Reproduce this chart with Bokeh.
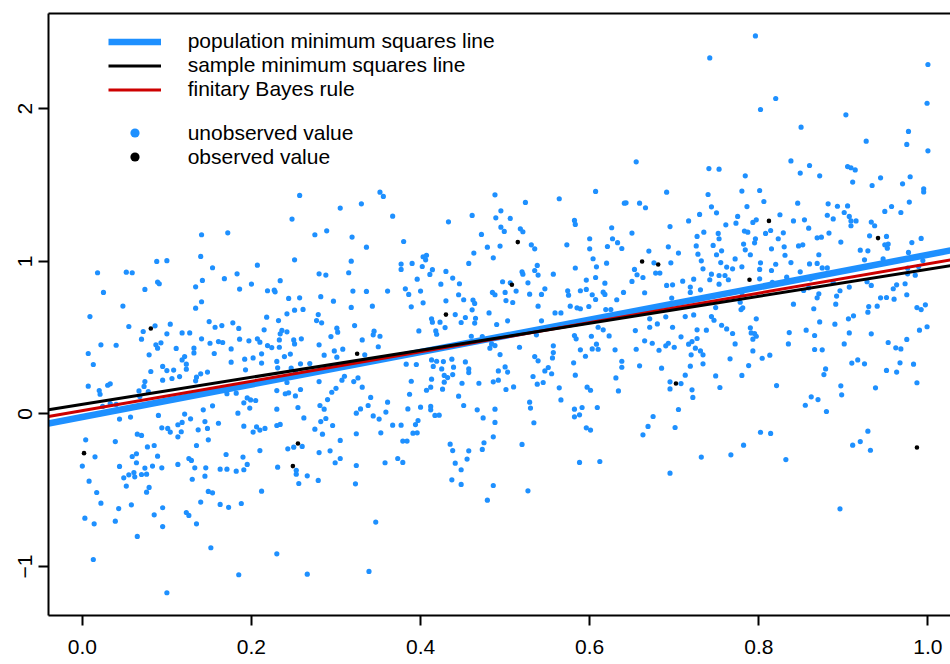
from bokeh.plotting import figure
from bokeh.models import Range1d, FixedTicker, LinearAxis, Legend, LegendItem, NumeralTickFormatter
from bokeh.embed import file_html
from bokeh.resources import INLINE

# ---------------- data ----------------
x_ticks = [0.0, 0.2, 0.4, 0.6, 0.8, 1.0]
y_ticks = [-1, 0, 1, 2]

line_labels = ["population minimum squares line", "sample minimum squares line", "finitary Bayes rule"]
line_intercepts = [-0.020, 0.063, 0.022]
line_slopes = [1.063, 0.885, 0.962]
line_colors = ["#1E90FF", "#000000", "#CD0000"]

x_unobserved = [
    # upper left
    0.257, 0.305, 0.248, 0.141, 0.172, 0.275, 0.289, 0.319, 0.140, 0.251, 0.318, 0.088, 0.100, 0.018, 0.052, 0.059,
    0.154, 0.207, 0.183, 0.280, 0.288, 0.315, 0.089, 0.091, 0.142, 0.168, 0.234, 0.025, 0.074, 0.134, 0.186, 0.200,
    0.219, 0.227, 0.228, 0.320, 0.244, 0.257, 0.282, 0.297, 0.141, 0.048, 0.134, 0.318, 0.251, 0.261,
    # upper middle
    0.655, 0.607, 0.564, 0.352, 0.356, 0.330, 0.488, 0.524, 0.641, 0.643, 0.659, 0.666, 0.367, 0.461, 0.489, 0.506,
    0.495, 0.433, 0.582, 0.583, 0.495, 0.499, 0.518, 0.521, 0.472, 0.336, 0.380, 0.463, 0.479, 0.494, 0.486, 0.531,
    0.535, 0.573, 0.600, 0.600, 0.626, 0.627, 0.633, 0.621, 0.638, 0.650, 0.670, 0.604, 0.608, 0.620, 0.377, 0.377,
    0.390, 0.403, 0.407, 0.406, 0.402, 0.414, 0.411, 0.396, 0.430, 0.438, 0.457, 0.538, 0.535, 0.539, 0.520, 0.521,
    0.557, 0.583, 0.653, 0.656, 0.663, 0.596, 0.607, 0.618, 0.650, 0.497, 0.506, 0.527, 0.336, 0.361, 0.382, 0.386,
    0.400, 0.424, 0.446, 0.445, 0.451, 0.462, 0.464, 0.430, 0.403, 0.389, 0.343, 0.485, 0.488, 0.500, 0.513, 0.529,
    0.543, 0.547, 0.574, 0.575, 0.589, 0.596, 0.603, 0.616, 0.618, 0.607, 0.632, 0.640, 0.665, 0.501, 0.509, 0.539,
    0.577, 0.585, 0.589, 0.599, 0.461, 0.619, 0.625,
    # upper right
    0.796, 0.742, 1.000, 0.820, 0.802, 0.999, 0.903, 0.850, 0.977, 0.975, 0.927, 1.000, 0.838, 0.860, 0.849, 0.741,
    0.753, 0.784, 0.872, 0.905, 0.909, 0.914, 0.911, 0.944, 0.934, 0.979, 0.970, 0.995, 0.995, 0.691, 0.740, 0.780,
    0.801, 0.806, 0.744, 0.786, 0.846, 0.882, 0.893, 0.905, 0.901, 0.907, 0.909, 0.909, 0.915, 0.881, 0.888, 0.859,
    0.854, 0.841, 0.825, 0.949, 0.957, 0.968, 0.978, 0.730, 0.750, 0.775, 0.717, 0.695, 0.761, 0.773, 0.793, 0.797,
    0.783, 0.787, 0.814, 0.808, 0.829, 0.796, 0.795, 0.823, 0.830, 0.815, 0.831, 0.847, 0.852, 0.869, 0.874, 0.883,
    0.897, 0.933, 0.937, 0.931, 0.951, 0.949, 0.953, 0.952, 0.981, 0.992, 0.735, 0.727, 0.752, 0.753, 0.726, 0.746,
    0.756, 0.750, 0.728, 0.732, 0.734, 0.693, 0.705, 0.696, 0.676, 0.678, 0.683, 0.744, 0.753, 0.753, 0.755, 0.762,
    0.769, 0.760, 0.764, 0.772, 0.782, 0.784, 0.790, 0.780, 0.802, 0.801, 0.801, 0.815, 0.820, 0.816, 0.838, 0.860,
    0.869, 0.871, 0.875, 0.881, 0.868, 0.849, 0.833, 0.844, 0.861, 0.920, 0.929, 0.925, 0.947, 0.977, 0.976, 0.989,
    0.994, 0.976, 0.985, 0.710, 0.723, 0.691, 0.698, 0.719, 0.719, 0.731, 0.742, 0.697, 0.888, 0.896, 0.907, 0.892,
    0.928, 0.933, 0.959, 0.963, 0.973, 0.975, 0.944, 0.951, 0.960, 0.871, 0.869, 0.859, 0.853, 0.780, 0.778, 0.781,
    0.749, 0.841, 0.865, 0.891, 0.930, 0.940, 0.987, 0.997, 0.779, 0.992,
    # lower left
    0.009, 0.055, 0.072, 0.070, 0.086, 0.104, 0.100, 0.118, 0.127, 0.150, 0.157, 0.165, 0.178, 0.185, 0.218, 0.232,
    0.242, 0.277, 0.279, 0.283, 0.301, 0.302, 0.294, 0.322, 0.215, 0.236, 0.234, 0.242, 0.233, 0.250, 0.251, 0.207,
    0.210, 0.219, 0.224, 0.233, 0.259, 0.186, 0.197, 0.161, 0.166, 0.151, 0.141, 0.111, 0.132, 0.132, 0.156, 0.176,
    0.192, 0.176, 0.202, 0.212, 0.212, 0.193, 0.230, 0.239, 0.246, 0.231, 0.247, 0.252, 0.258, 0.269, 0.280, 0.286,
    0.298, 0.301, 0.308, 0.087, 0.089, 0.093, 0.079, 0.121, 0.118, 0.123, 0.123, 0.081, 0.095, 0.100, 0.108, 0.115,
    0.095, 0.106, 0.135, 0.134, 0.140, 0.148, 0.074, 0.073, 0.067, 0.068, 0.078, 0.030, 0.033, 0.020, 0.021, 0.007,
    0.013, 0.022, 0.040, 0.007, 0.024, 0.033, 0.040, 0.044, 0.057, 0.090, 0.094, 0.101, 0.104, 0.113, 0.118, 0.121,
    0.128, 0.143, 0.145, 0.154, 0.161, 0.171, 0.182, 0.191, 0.195, 0.199, 0.205, 0.184, 0.191, 0.198, 0.206, 0.210,
    0.202, 0.216, 0.230, 0.230, 0.234, 0.244, 0.240, 0.230, 0.242, 0.258, 0.252, 0.255, 0.262, 0.275, 0.282, 0.281,
    0.286, 0.290, 0.295, 0.300, 0.288, 0.296, 0.284, 0.305, 0.321, 0.307, 0.310, 0.280, 0.004, 0.039, 0.015, 0.000,
    0.008, 0.017, 0.022, 0.003, 0.014, 0.039, 0.043, 0.058, 0.065, 0.013, 0.085, 0.095, 0.095, 0.100, 0.085, 0.077,
    0.065, 0.070, 0.064, 0.064, 0.059, 0.044, 0.049, 0.055, 0.061, 0.062, 0.070, 0.076, 0.074, 0.083, 0.094, 0.089,
    0.052, 0.076, 0.079, 0.113, 0.117, 0.113, 0.126, 0.129, 0.133, 0.135, 0.137, 0.149, 0.148, 0.146, 0.145, 0.130,
    0.149, 0.154, 0.140, 0.123, 0.126, 0.135, 0.152, 0.163, 0.173, 0.188, 0.170, 0.163, 0.171, 0.182, 0.191, 0.190,
    0.195, 0.210, 0.231, 0.212, 0.230, 0.185, 0.266, 0.243, 0.250, 0.260, 0.280, 0.293, 0.253, 0.253, 0.256, 0.266,
    0.279, 0.305, 0.299,
    # lower middle
    0.481, 0.559, 0.566, 0.331, 0.345, 0.344, 0.352, 0.350, 0.334, 0.398, 0.413, 0.414, 0.423, 0.429, 0.418, 0.419,
    0.441, 0.448, 0.453, 0.464, 0.465, 0.490, 0.503, 0.543, 0.460, 0.473, 0.484, 0.488, 0.482, 0.494, 0.517, 0.537,
    0.535, 0.539, 0.557, 0.557, 0.556, 0.555, 0.547, 0.551, 0.545, 0.533, 0.538, 0.564, 0.566, 0.582, 0.584, 0.581,
    0.583, 0.589, 0.595, 0.602, 0.610, 0.603, 0.608, 0.610, 0.616, 0.623, 0.630, 0.638, 0.638, 0.631, 0.634, 0.654,
    0.655, 0.659, 0.665, 0.671, 0.671, 0.597, 0.601, 0.609, 0.582, 0.582, 0.588, 0.591, 0.596, 0.601, 0.612, 0.588,
    0.663, 0.669, 0.383, 0.395, 0.413, 0.419, 0.427, 0.437, 0.439, 0.415, 0.425, 0.428, 0.438, 0.432, 0.413, 0.412,
    0.407, 0.426, 0.428, 0.453, 0.457, 0.457, 0.449, 0.469, 0.486, 0.492, 0.500, 0.503, 0.510, 0.501, 0.492, 0.445,
    0.451, 0.467, 0.474, 0.488, 0.488, 0.486, 0.326, 0.331, 0.341, 0.338, 0.329, 0.324, 0.344, 0.351, 0.359, 0.361,
    0.353, 0.367, 0.377, 0.387, 0.389, 0.385, 0.400, 0.412, 0.412, 0.417, 0.422, 0.397, 0.394, 0.396, 0.391, 0.379,
    0.384, 0.373, 0.379, 0.358, 0.324, 0.324, 0.323, 0.347, 0.339, 0.435, 0.438, 0.441, 0.455, 0.457, 0.448, 0.437,
    0.448, 0.473, 0.475, 0.486, 0.479, 0.520, 0.527, 0.529, 0.530, 0.534,
    # lower right
    0.680, 0.690, 0.698, 0.713, 0.723, 0.744, 0.747, 0.756, 0.762, 0.769, 0.772, 0.790, 0.791, 0.795, 0.797, 0.793,
    0.797, 0.727, 0.738, 0.708, 0.727, 0.721, 0.717, 0.725, 0.731, 0.734, 0.720, 0.690, 0.693, 0.700, 0.682, 0.674,
    0.766, 0.734, 0.719, 0.713, 0.749, 0.754, 0.780, 0.788, 0.793, 0.804, 0.813, 0.821, 0.695, 0.708, 0.695, 0.721,
    0.722, 0.705, 0.675, 0.701, 0.685, 0.802, 0.814, 0.782, 0.767, 0.732, 0.695, 0.832, 0.856, 0.866, 0.872, 0.890,
    0.906, 0.912, 0.929, 0.901, 0.907, 0.933, 0.910, 0.917, 0.925, 0.879, 0.877, 0.866, 0.875, 0.836, 0.835, 0.953,
    0.962, 0.968, 0.975, 0.990, 0.999, 0.967, 0.963, 0.983, 0.987, 0.951, 0.938, 0.897, 0.898, 0.855, 0.862, 0.870,
    0.880, 0.929, 0.920, 0.911, 0.932, 0.896,
]

y_unobserved = [
    # upper left
    1.432, 1.349, 1.277, 1.174, 1.187, 1.174, 1.200, 1.159, 1.032, 1.010, 1.001, 0.999, 1.004, 0.925, 0.929, 0.925,
    0.958, 0.975, 0.918, 0.918, 0.910, 0.925, 0.864, 0.853, 0.875, 0.886, 0.873, 0.796, 0.816, 0.833, 0.818, 0.851,
    0.807, 0.811, 0.800, 0.805, 0.757, 0.761, 0.768, 0.739, 0.735, 0.707, 0.693, 0.698, 0.680, 0.685,
    # upper middle
    1.652, 1.458, 1.410, 1.453, 1.425, 1.377, 1.436, 1.386, 1.381, 1.383, 1.381, 1.351, 1.296, 1.301, 1.285, 1.281,
    1.331, 1.259, 1.268, 1.242, 1.224, 1.196, 1.213, 1.194, 1.176, 1.093, 1.130, 1.054, 1.093, 1.100, 1.023, 1.108,
    1.082, 1.108, 1.148, 1.082, 1.220, 1.148, 1.122, 1.097, 1.084, 1.185, 1.067, 1.017, 0.964, 0.988, 0.982, 0.947,
    0.986, 1.030, 1.039, 1.010, 0.966, 0.945, 0.914, 0.883, 0.934, 0.890, 0.986, 0.973, 0.940, 0.910, 0.931, 0.916,
    0.916, 0.956, 0.947, 0.912, 0.894, 0.877, 0.894, 0.857, 0.868, 0.866, 0.859, 0.859, 0.803, 0.805, 0.820, 0.783,
    0.805, 0.850, 0.853, 0.781, 0.748, 0.746, 0.724, 0.741, 0.728, 0.702, 0.706, 0.796, 0.781, 0.796, 0.805, 0.785,
    0.783, 0.820, 0.807, 0.778, 0.807, 0.816, 0.781, 0.798, 0.783, 0.750, 0.748, 0.796, 0.794, 0.743, 0.730, 0.706,
    0.706, 0.695, 0.689, 0.704, 0.682, 0.684, 0.684,
    # upper right
    2.477, 2.333, 2.290, 2.067, 1.995, 2.036, 1.960, 1.879, 1.851, 1.766, 1.787, 1.724, 1.658, 1.628, 1.578, 1.608,
    1.604, 1.560, 1.560, 1.621, 1.613, 1.599, 1.519, 1.547, 1.497, 1.554, 1.508, 1.475, 1.455, 1.453, 1.438, 1.460,
    1.464, 1.392, 1.357, 1.359, 1.381, 1.377, 1.361, 1.363, 1.320, 1.294, 1.265, 1.233, 1.265, 1.302, 1.278, 1.217,
    1.272, 1.265, 1.305, 1.327, 1.359, 1.320, 1.388, 1.307, 1.318, 1.294, 1.265, 1.228, 1.239, 1.250, 1.255, 1.272,
    1.198, 1.191, 1.202, 1.183, 1.187, 1.148, 1.121, 1.148, 1.095, 1.082, 1.040, 1.101, 1.108, 1.154, 1.158, 1.185,
    1.126, 1.257, 1.233, 1.167, 1.163, 1.108, 1.113, 1.086, 1.123, 1.150, 1.191, 1.163, 1.183, 1.148, 1.101, 1.104,
    1.069, 1.043, 1.047, 1.003, 0.951, 1.095, 1.054, 0.990, 0.990, 0.923, 0.923, 0.916, 0.907, 0.850, 0.992, 0.962,
    0.951, 0.907, 0.879, 1.016, 1.113, 1.075, 1.043, 0.964, 0.990, 0.947, 0.885, 0.940, 0.981, 0.863, 0.992, 0.983,
    0.986, 1.043, 0.957, 0.957, 0.900, 0.931, 0.896, 0.881, 0.885, 1.073, 1.069, 1.010, 1.016, 1.058, 0.955, 0.966,
    1.005, 0.918, 0.909, 0.870, 0.883, 0.842, 0.846, 0.831, 0.796, 0.813, 0.879, 0.759, 0.861, 0.807, 0.831, 0.772,
    0.866, 0.842, 0.820, 0.846, 0.853, 0.781, 0.761, 0.763, 0.752, 0.787, 0.761, 0.826, 0.809, 0.794, 0.732, 0.695,
    0.697, 0.719, 0.689, 0.719, 0.704, 0.706, 0.697, 0.715, 0.684, 0.684,
    # lower left
    0.638, 0.573, 0.540, 0.490, 0.577, 0.588, 0.525, 0.531, 0.531, 0.605, 0.568, 0.579, 0.597, 0.560, 0.634, 0.612,
    0.656, 0.612, 0.651, 0.597, 0.562, 0.536, 0.507, 0.579, 0.551, 0.547, 0.525, 0.538, 0.485, 0.485, 0.459, 0.492,
    0.470, 0.448, 0.435, 0.437, 0.492, 0.490, 0.479, 0.474, 0.468, 0.463, 0.492, 0.429, 0.431, 0.400, 0.396, 0.426,
    0.359, 0.339, 0.367, 0.394, 0.333, 0.289, 0.344, 0.376, 0.392, 0.302, 0.300, 0.278, 0.328, 0.330, 0.453, 0.385,
    0.413, 0.372, 0.424, 0.453, 0.431, 0.466, 0.387, 0.376, 0.354, 0.326, 0.293, 0.278, 0.311, 0.284, 0.287, 0.245,
    0.221, 0.232, 0.241, 0.217, 0.263, 0.274, 0.212, 0.180, 0.151, 0.114, 0.147, 0.188, 0.197, 0.153, 0.129, 0.396,
    0.324, 0.453, 0.450, 0.182, 0.049, 0.068, 0.062, -0.034, -0.021, -0.010, -0.091, -0.095, -0.119, -0.071, -0.056, -0.001,
    -0.032, 0.027, -0.050, 0.053, -0.061, 0.132, 0.136, 0.073, 0.105, 0.092, 0.088, 0.005, -0.080, 0.038, -0.085, -0.106,
    -0.119, -0.095, 0.031, -0.076, -0.069, 0.138, 0.132, 0.153, 0.206, 0.160, 0.118, 0.042, -0.026, -0.100, -0.050, 0.055,
    0.031, 0.094, 0.142, 0.168, -0.030, -0.076, -0.133, -0.174, 0.212, 0.221, 0.247, 0.212, -0.170, -0.181, -0.281, -0.342,
    -0.441, -0.515, -0.585, -0.683, -0.720, -0.703, -0.620, -0.596, -0.803, -0.954, -0.661, -0.615, -0.738, -1.172, -0.207, -0.216,
    -0.133, -0.141, -0.261, -0.320, -0.279, -0.344, -0.419, -0.399, -0.384, -0.412, -0.397, -0.395, -0.355, -0.342, -0.353, -0.277,
    -0.473, -0.513, -0.482, -0.150, -0.117, -0.331, -0.292, -0.305, -0.353, -0.207, -0.104, -0.170, -0.095, -0.353, -0.408, -0.428,
    -0.508, -0.517, -0.578, -0.646, -0.665, -0.720, -0.877, -0.593, -0.613, -0.587, -0.266, -0.362, -0.362, -0.375, -0.366, -0.283,
    -0.331, -0.240, -0.349, -0.506, -0.917, -1.054, -1.050, -0.229, -0.218, -0.213, -0.253, -0.242, -0.369, -0.395, -0.456, -0.406,
    -0.436, -0.292, -0.320,
    # lower middle
    0.662, 0.662, 0.662, 0.485, 0.542, 0.518, 0.509, 0.440, 0.387, 0.544, 0.623, 0.601, 0.601, 0.566, 0.544, 0.522,
    0.651, 0.599, 0.632, 0.595, 0.627, 0.586, 0.610, 0.610, 0.509, 0.507, 0.459, 0.448, 0.431, 0.389, 0.437, 0.518,
    0.376, 0.348, 0.446, 0.402, 0.367, 0.263, 0.282, 0.304, 0.206, 0.245, 0.195, 0.171, 0.092, 0.514, 0.492, 0.335,
    0.254, 0.420, 0.378, 0.509, 0.568, 0.426, 0.457, 0.424, 0.551, 0.511, 0.420, 0.345, 0.306, 0.236, 0.151, 0.546,
    0.424, 0.315, 0.479, 0.623, 0.568, 0.175, 0.155, 0.042, 0.031, -0.019, -0.006, 0.042, -0.091, -0.106, -0.312, -0.318,
    -0.137, -0.082, 0.326, 0.324, 0.354, 0.345, 0.343, 0.359, 0.306, 0.311, 0.295, 0.252, 0.258, 0.238, 0.228, 0.175,
    0.155, 0.162, 0.208, 0.341, 0.295, 0.271, 0.201, 0.201, 0.210, 0.221, 0.308, 0.274, 0.177, 0.160, 0.282, 0.116,
    0.055, 0.027, -0.026, 0.031, -0.056, -0.150, 0.236, 0.175, 0.108, 0.055, 0.033, 0.005, -0.013, -0.034, 0.012, 0.077,
    -0.124, -0.074, -0.074, 0.129, 0.214, 0.033, 0.044, 0.049, 0.027, -0.010, -0.008, -0.043, -0.070, -0.124, -0.126, -0.178,
    -0.178, -0.292, -0.318, -0.320, -0.130, -0.338, -0.458, -0.709, -1.032, -0.198, -0.240, -0.323, -0.296, -0.242, -0.366, -0.432,
    -0.462, -0.233, -0.189, -0.469, -0.565, -0.200, -0.504, 0.077, 0.038, -0.058,
    # lower right
    0.590, 0.636, 0.568, 0.638, 0.649, 0.638, 0.614, 0.581, 0.557, 0.527, 0.459, 0.564, 0.531, 0.527, 0.509, 0.490,
    0.623, 0.551, 0.549, 0.505, 0.494, 0.474, 0.457, 0.431, 0.413, 0.387, 0.387, 0.446, 0.463, 0.437, 0.417, 0.463,
    0.361, 0.328, 0.313, 0.254, 0.249, 0.173, 0.252, 0.317, 0.413, 0.365, 0.385, 0.186, 0.210, 0.199, 0.164, 0.158,
    0.108, 0.029, -0.017, -0.089, 0.300, -0.120, -0.128, -0.205, -0.268, -0.283, -0.388, -0.299, 0.549, 0.514, 0.603, 0.588,
    0.623, 0.643, 0.667, 0.459, 0.531, 0.525, 0.333, 0.354, 0.328, 0.295, 0.258, 0.422, 0.420, 0.533, 0.459, 0.468,
    0.433, 0.426, 0.488, 0.549, 0.571, 0.335, 0.274, 0.326, 0.204, 0.285, 0.171, 0.184, 0.125, 0.057, 0.112, 0.094,
    0.016, -0.113, -0.181, -0.205, -0.238, -0.622,
]

x_observed = [0.515, 0.662, 0.508, 0.681, 0.812, 0.941, 0.789, 0.081, 0.325, 0.002, 0.255, 0.249, 0.430, 0.987, 0.702]
y_observed = [1.126, 0.999, 0.846, 0.979, 1.265, 1.152, 0.879, 0.560, 0.394, -0.257, -0.194, -0.342, 0.651, -0.220, 0.199]

# ---------------- figure ----------------
FONT = "Liberation Sans"
x_lo, x_hi = -0.04, 1.0267
p = figure(width=950, height=664, output_backend="svg", toolbar_location=None,
           x_range=Range1d(x_lo, x_hi), y_range=Range1d(-1.321, 2.624),
           min_border_left=48, min_border_right=0, min_border_top=13, min_border_bottom=49)

p.grid.visible = False
p.outline_line_color = None
p.background_fill_color = "white"

for ax in (p.xaxis[0], p.yaxis[0]):
    ax.axis_line_width = 2
    ax.axis_line_color = "black"
    ax.major_tick_line_width = 2
    ax.major_tick_line_color = "black"
    ax.major_tick_in = 0
    ax.major_tick_out = 10
    ax.minor_tick_in = 0
    ax.minor_tick_out = 0
    ax.major_label_text_font = FONT
    ax.major_label_text_font_size = "21px"
    ax.major_label_text_color = "black"

p.xaxis.ticker = FixedTicker(ticks=x_ticks)
p.xaxis.formatter = NumeralTickFormatter(format="0.0")
p.xaxis.major_label_standoff = 14
p.yaxis.ticker = FixedTicker(ticks=y_ticks)
p.yaxis.major_label_orientation = "vertical"
p.yaxis.major_label_standoff = 6

top_axis = LinearAxis(ticker=FixedTicker(ticks=[]), axis_line_width=2, axis_line_color="black",
                      major_tick_out=0, major_tick_in=0, minor_tick_out=0, minor_tick_in=0,
                      major_label_text_font_size="0px", major_label_standoff=0)
p.add_layout(top_axis, "above")

# points
r_unobs = p.scatter(x_unobserved, y_unobserved, size=5.2, fill_color="#1E90FF", line_color=None)

# lines (drawn across the whole frame)
x_ends = [x_lo, x_hi]
line_widths = [6.5, 3, 3]
renderers = {}
for idx in (0, 2, 1):
    ys = [line_intercepts[idx] + line_slopes[idx] * xv for xv in x_ends]
    renderers[idx] = p.line(x_ends, ys, line_color=line_colors[idx], line_width=line_widths[idx])

r_obs = p.scatter(x_observed, y_observed, size=4.6, fill_color="black", line_color=None)

common = dict(orientation="vertical", glyph_width=53, glyph_height=23, label_height=23, label_standoff=27,
              spacing=0, padding=0, margin=0, border_line_color=None, background_fill_alpha=0,
              label_text_font=FONT, label_text_font_size="21px", label_text_color="black")

legend_lines = Legend(items=[LegendItem(label=line_labels[i], renderers=[renderers[i]]) for i in range(3)],
                      location=(59.7, 514.0), **common)
legend_points = Legend(items=[LegendItem(label="unobserved value", renderers=[r_unobs]),
                              LegendItem(label="observed value", renderers=[r_obs])],
                       location=(59.7, 446.3), **common)
p.add_layout(legend_lines)
p.add_layout(legend_points)

open("out.html", "w").write(file_html(p, INLINE))
